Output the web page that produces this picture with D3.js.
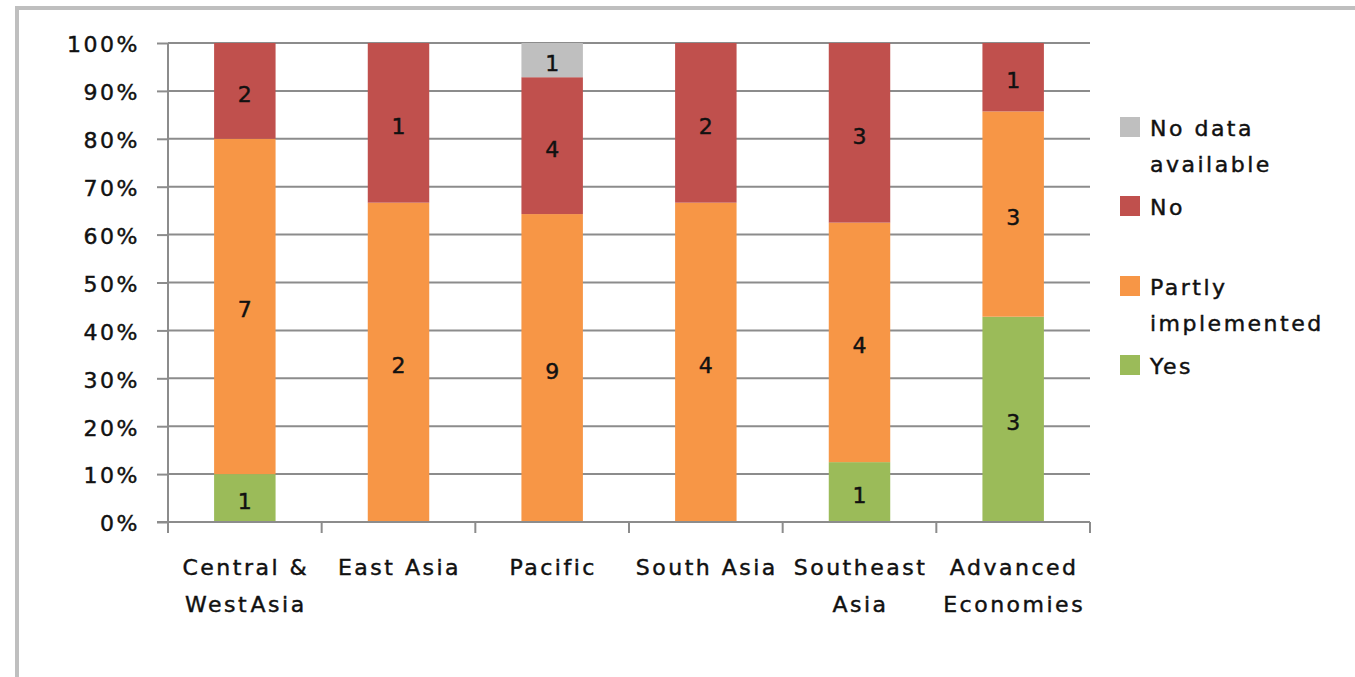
<!DOCTYPE html>
<html>
<head>
<meta charset="utf-8">
<script src="https://cdn.jsdelivr.net/npm/d3@7"></script>
<style>
  body { margin: 0; background: #fff; }
  text { font-family: "DejaVu Sans", sans-serif; fill: #111; stroke: #111; stroke-width: 0.45px; }
</style>
</head>
<body>
<div id="chart"></div>
<script>
const categories = ["Central & West Asia", "East Asia", "Pacific", "South Asia", "Southeast Asia", "Advanced Economies"];
const categoryLines = [["Central &", "West Asia"], ["East Asia"], ["Pacific"], ["South Asia"], ["Southeast", "Asia"], ["Advanced", "Economies"]];
const yesVals = [1, 0, 0, 0, 1, 3];
const partlyVals = [7, 2, 9, 4, 4, 3];
const noVals = [2, 1, 4, 2, 3, 1];
const noDataVals = [0, 0, 1, 0, 0, 0];
const seriesNames = ["Yes", "Partly implemented", "No", "No data available"];
const seriesKeys = ["yes", "partly", "no", "nodata"];
const seriesColors = ["#9BBB59", "#F79646", "#C0504D", "#BFBFBF"];
const yTicks = [0, 0.1, 0.2, 0.3, 0.4, 0.5, 0.6, 0.7, 0.8, 0.9, 1];

const totalWidth = 1355, totalHeight = 677;
const pLeft = 168, pRight = 1090, pTop = 43, pBottom = 522;
const fontSize = 22;

let rows = categories.map((c, i) => ({
    cat: c, yes: yesVals[i], partly: partlyVals[i], no: noVals[i], nodata: noDataVals[i]
}));

let stacked = d3.stack().keys(seriesKeys).offset(d3.stackOffsetExpand)(rows);

let svg = d3.select("#chart").append("svg")
        .attr("width", totalWidth)
        .attr("height", totalHeight);

// outer frame (only top and left edges are visible)
svg.append("rect")
        .attr("x", 17).attr("y", 8)
        .attr("width", totalWidth + 20).attr("height", totalHeight + 20)
        .attr("fill", "none")
        .attr("stroke", "#BFBFBF")
        .attr("stroke-width", 4);

let xScale = d3.scaleBand().domain(categories).range([pLeft, pRight]).paddingInner(0.6).paddingOuter(0.3);
let yScale = d3.scaleLinear().domain([0, 1]).range([pBottom, pTop]);

// gridlines
svg.append("g").selectAll("line")
        .data(yTicks.slice(1))
        .enter().append("line")
        .attr("x1", pLeft).attr("x2", pRight)
        .attr("y1", d => yScale(d)).attr("y2", d => yScale(d))
        .attr("stroke", "#8C8C8C")
        .attr("stroke-width", 2);

// bars
let layer = svg.append("g").selectAll("g")
        .data(stacked)
        .enter().append("g")
        .attr("fill", (d, i) => seriesColors[i]);

layer.selectAll("rect")
        .data(d => d)
        .enter().append("rect")
        .attr("x", d => xScale(d.data.cat))
        .attr("y", d => yScale(d[1]))
        .attr("width", xScale.bandwidth())
        .attr("height", d => yScale(d[0]) - yScale(d[1]));

// data labels
stacked.forEach(function (s) {
    svg.append("g").selectAll("text")
            .data(s.filter(d => d.data[s.key] > 0))
            .enter().append("text")
            .attr("x", d => xScale(d.data.cat) + xScale.bandwidth() / 2)
            .attr("y", d => yScale((d[0] + d[1]) / 2))
            .attr("dy", "0.5em")
            .attr("text-anchor", "middle")
            .attr("font-size", fontSize)
            .text(d => d.data[s.key]);
});

// y axis
let yAxis = d3.axisLeft(yScale).tickValues(yTicks).tickFormat(d3.format(".0%")).tickSize(11).tickPadding(17);
let gy = svg.append("g")
        .attr("transform", "translate(" + pLeft + ",0)")
        .call(yAxis);
gy.select(".domain").attr("stroke", "#8C8C8C").attr("stroke-width", 2).attr("d", "M0," + (pBottom + 10) + "V" + pTop);
gy.selectAll(".tick line").attr("stroke", "#8C8C8C").attr("stroke-width", 2);
gy.selectAll(".tick text")
        .attr("font-size", fontSize)
        .attr("letter-spacing", 2.5)
        .attr("dy", "0.4em")
        .attr("font-family", "DejaVu Sans")
        .attr("fill", "#111");

// x axis line + ticks
svg.append("line")
        .attr("x1", pLeft - 11).attr("x2", pRight)
        .attr("y1", pBottom).attr("y2", pBottom)
        .attr("stroke", "#8C8C8C").attr("stroke-width", 2);
let step = xScale.step();
svg.append("g").selectAll("line")
        .data(d3.range(categories.length + 1))
        .enter().append("line")
        .attr("x1", i => pLeft + i * step).attr("x2", i => pLeft + i * step)
        .attr("y1", pBottom).attr("y2", pBottom + 11)
        .attr("stroke", "#8C8C8C").attr("stroke-width", 2);

// category labels
let catLabels = svg.append("g").selectAll("text")
        .data(categories)
        .enter().append("text")
        .attr("x", d => xScale(d) + xScale.bandwidth() / 2 + 1)
        .attr("y", 575)
        .attr("text-anchor", "middle")
        .attr("font-size", fontSize)
        .attr("letter-spacing", 2.5);
catLabels.selectAll("tspan")
        .data((d, i) => categoryLines[i])
        .enter().append("tspan")
        .attr("x", function () { return this.parentNode.getAttribute("x"); })
        .attr("dy", (d, i) => i === 0 ? 0 : 37)
        .attr("word-spacing", d => d === "West Asia" ? -8 : 0)
        .text(d => d);

// legend
const legendOrder = [3, 2, 1, 0];
const legendY = [127, 206, 286, 365];
const legendLines = [["No data", "available"], ["No"], ["Partly", "implemented"], ["Yes"]];
legendOrder.forEach(function (si, k) {
    let lg = svg.append("g").attr("transform", "translate(1120," + legendY[k] + ")");
    lg.append("rect")
            .attr("x", 0).attr("y", -10)
            .attr("width", 20).attr("height", 20)
            .attr("fill", seriesColors[si]);
    let t = lg.append("text")
            .attr("x", 30).attr("y", 0)
            .attr("font-size", fontSize)
            .attr("letter-spacing", 2.5);
    legendLines[k].forEach(function (line, j) {
        t.append("tspan").attr("x", 30).attr("dy", j === 0 ? "0.4em" : 36).text(line);
    });
});
</script>
</body>
</html>
